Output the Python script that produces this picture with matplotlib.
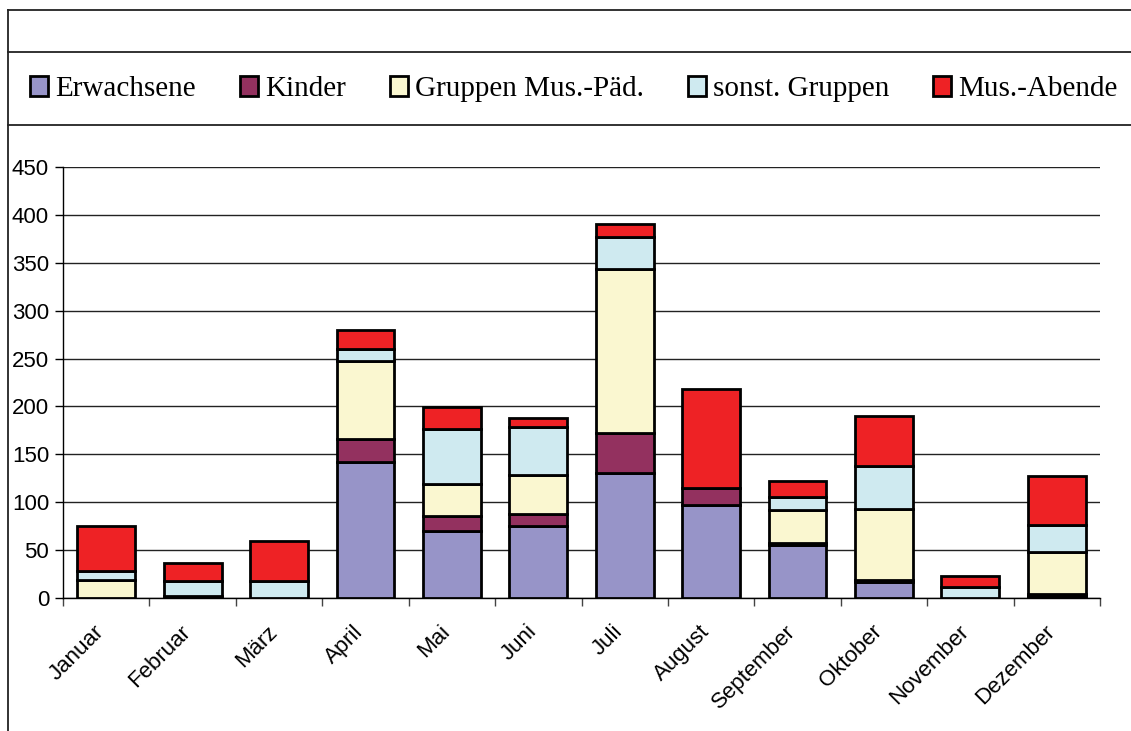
import matplotlib
matplotlib.use("Agg")
import matplotlib.pyplot as plt
from matplotlib.lines import Line2D
from matplotlib.patches import Patch
from matplotlib.transforms import ScaledTranslation
import numpy as np

months = ["Januar", "Februar", "März", "April", "Mai", "Juni", "Juli",
          "August", "September", "Oktober", "November", "Dezember"]
series_names = ["Erwachsene", "Kinder", "Gruppen Mus.-Päd.", "sonst. Gruppen", "Mus.-Abende"]
erwachsene = [0, 2, 0, 142, 70, 75, 131, 97, 55, 17, 0, 2]
kinder = [0, 0, 0, 24, 16, 13, 41, 18, 2, 2, 0, 2]
gruppen = [19, 0, 0, 81, 33, 40, 171, 0, 35, 74, 0, 44]
sonst = [9, 16, 18, 13, 57, 51, 34, 0, 13, 45, 11, 28]
abende = [47, 19, 42, 20, 23, 9, 14, 103, 17, 52, 12, 51]
colors = ["#9794c8", "#93315f", "#faf7d0", "#cfeaf0", "#ee2225"]
yticks = [0, 50, 100, 150, 200, 250, 300, 350, 400, 450]

W, H = 1131, 731
fig = plt.figure(figsize=(W / 100, H / 100), dpi=100)
ax = fig.add_axes([63 / W, 1 - 598 / H, (1100 - 63) / W, (598 - 167) / H])

x = np.arange(len(months))
bottom = np.zeros(len(months))
handles = []
for name, vals, col in zip(series_names, [erwachsene, kinder, gruppen, sonst, abende], colors):
    v = np.array(vals, dtype=float)
    ax.bar(x, v, bottom=bottom, width=0.67, color=col, edgecolor="black",
           linewidth=2.0, zorder=3)
    bottom += v
    handles.append(Patch(facecolor=col, edgecolor="black", linewidth=2.0, label=name))

ax.set_xlim(-0.5, len(months) - 0.5)
ax.set_ylim(0, 450)
ax.set_yticks(yticks)
ax.yaxis.grid(True, color="#222222", linewidth=1.0, zorder=0)
ax.set_axisbelow(True)
for s in ["top", "right"]:
    ax.spines[s].set_visible(False)
ax.spines["left"].set_linewidth(1.0)
ax.spines["bottom"].set_linewidth(1.0)

ax.set_xticks(x)
ax.set_xticklabels(months, rotation=45, ha="right", va="center", rotation_mode="anchor",
                   fontsize=16, family="Liberation Sans")
ax.tick_params(axis="x", which="major", length=0, pad=22)
offset = ScaledTranslation(-5 / 100, 0, fig.dpi_scale_trans)
for lab in ax.get_xticklabels():
    lab.set_transform(lab.get_transform() + offset)
ax.set_xticks(np.arange(-0.5, len(months) + 0.5, 1), minor=True)
ax.tick_params(axis="x", which="minor", length=6, width=1, color="#444444", direction="out")
ax.tick_params(axis="y", length=6, width=1, direction="out", pad=4)
for lab in ax.get_yticklabels():
    lab.set_fontsize(16)
    lab.set_family("Liberation Sans")

# outer frame lines (chart area border)
for yy in [10, 52, 125]:
    fig.add_artist(Line2D([8 / W, 1], [1 - yy / H, 1 - yy / H], color="#222222", linewidth=1.3))
fig.add_artist(Line2D([8 / W, 8 / W], [0, 1 - 10 / H], color="#222222", linewidth=1.3))

fig.legend(handles=handles, loc="center", bbox_to_anchor=(574 / W, 1 - 89 / H), ncol=5,
           frameon=False, prop={"family": "Liberation Serif", "size": 21},
           handlelength=0.62, handleheight=0.7, handletextpad=0.25, columnspacing=1.5,
           borderpad=0, borderaxespad=0)

fig.savefig("out.png", dpi=100)
